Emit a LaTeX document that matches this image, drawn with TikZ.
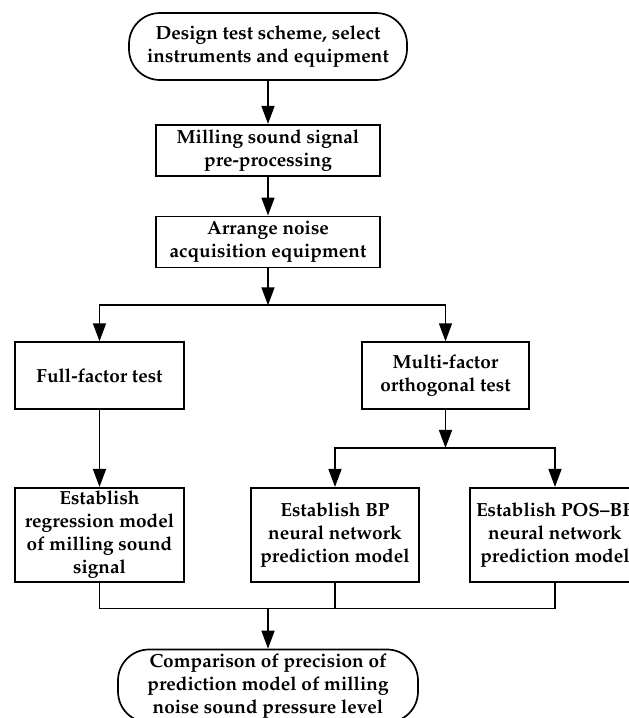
\documentclass[tikz,border=0pt]{standalone}
\usepackage[T1]{fontenc}
\usepackage{mathpazo}
\usetikzlibrary{positioning,calc,arrows.meta}

\begin{document}
\begin{tikzpicture}[node distance=40pt, auto, x=1pt, y=1pt]
		% 节点样式
			\tikzstyle{box} = [rectangle, draw, line width=1.7pt, align=center, inner sep=2pt, font=\fontsize{19}{23}\selectfont\bfseries]
			\tikzstyle{term} = [box, rounded corners=31pt]
			\tikzstyle{arr} = [line width=1.6pt, -{Triangle[length=18pt,width=13pt]}]
			\tikzstyle{line} = [line width=1.6pt]
			
			\useasboundingbox (0,0) rectangle (629,-718);
			
			% 节点
			\node [term, minimum width=278pt, minimum height=67pt] (design) at (268,-46.5) {Design test scheme, select\\instruments and equipment};
			\node [box, below=43pt of design, minimum width=224pt, minimum height=51pt] (prep) {Milling sound signal\\pre-processing};
			\node [box, below=39pt of prep, minimum width=224pt, minimum height=51pt] (arrange) {Arrange noise\\acquisition equipment};
			\node [box, below=73pt of arrange, xshift=-168.5pt, minimum width=169pt, minimum height=67pt] (full) {Full-factor test};
			\node [box, below=73pt of arrange, xshift=177.5pt, minimum width=167pt, minimum height=67pt] (multi) {Multi-factor\\orthogonal test};
			\node [box, below=77pt of full, minimum width=169pt, minimum height=94pt] (regr) {Establish\\regression model\\of milling sound\\signal};
			\node [box, below=77pt of multi, xshift=-110.5pt, minimum width=168pt, minimum height=94pt] (bp) {Establish BP\\neural network\\prediction model};
			\node [box, below=77pt of multi, xshift=109.5pt, minimum width=170pt, minimum height=94pt] (pos) {Establish POS--BP\\neural network\\prediction model};
			\node [term, below=66pt of bp, xshift=-67pt, minimum width=300pt, minimum height=73pt] (comp) {Comparison of precision of\\prediction model of milling\\noise sound pressure level};
			
			\coordinate (split) at ($(arrange.south)+(0,-37pt)$);
			\coordinate (subsplit) at ($(multi.south)+(0,-38pt)$);
			\coordinate (merge) at ($(regr.south)+(0,-26pt)$);
			
			% 连线
			\draw[arr] (design) -- (prep);
			\draw[arr] (prep) -- (arrange);
			\draw[arr] (arrange) -- (split);
			\draw[arr] (split) -| (full);
			\draw[arr] (split) -| (multi);
			\draw[arr] (full) -- (regr);
			\draw[arr] (multi) -- (subsplit);
			\draw[arr] (subsplit) -| (bp);
			\draw[arr] (subsplit) -| (pos);
			\draw[line] (regr) -- (regr.south|-merge) -| (pos);
			\draw[line] (bp) -- (bp.south|-merge);
			\draw[arr] (comp.north|-merge) -- (comp);
		\end{tikzpicture}
\end{document}
